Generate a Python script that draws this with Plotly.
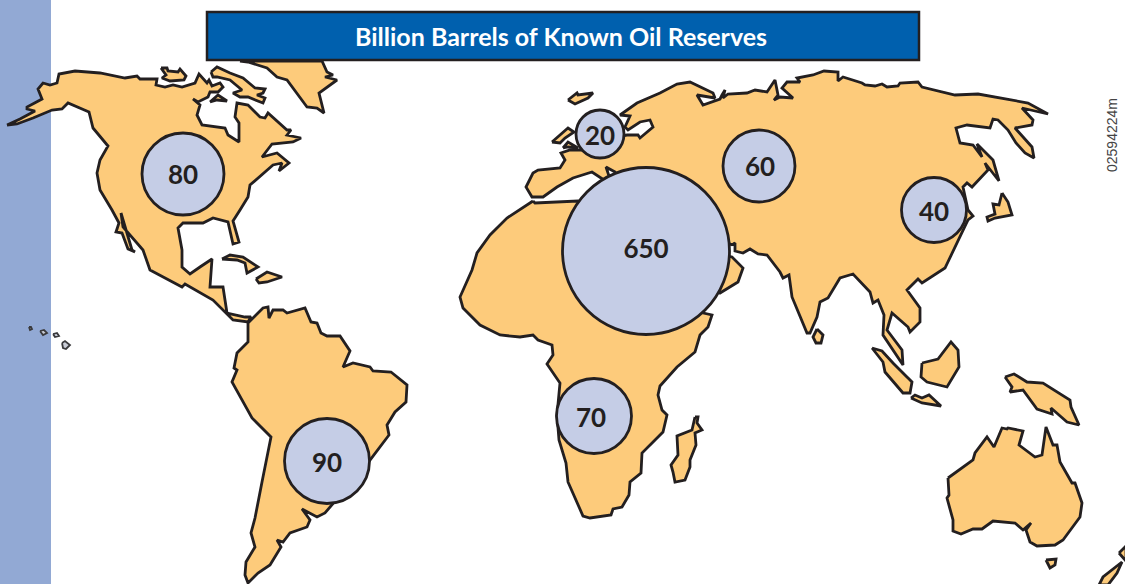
import plotly.graph_objects as go

# outlines, in picture pixels
north_america = [(7,125),(20,119),(35,111),(27,109),(27,107),(42,99),(38,89),(43,83),(50,85),(57,83),(59,74),(75,71),(100,73),(125,78),(137,76),(140,79),(157,79),(156,85),(165,87),(173,85),(182,87),(195,83),(199,74),(207,83),(209,80),(212,86),(220,83),(223,87),(218,92),(210,92),(208,97),(198,102),(193,99),(200,105),(197,115),(202,125),(225,128),(228,135),(239,142),(239,123),(235,117),(237,103),(248,105),(260,117),(265,118),(268,113),(287,130),(291,130),(287,135),(301,138),(293,142),(272,144),(262,157),(277,153),(289,163),(279,171),(282,163),(273,165),(250,185),(248,197),(240,210),(233,221),(239,242),(233,244),(228,222),(213,218),(203,223),(183,223),(178,228),(182,250),(182,267),(190,274),(200,267),(212,259),(210,287),(223,287),(227,313),(245,317),(251,317),(248,322),(233,320),(213,300),(185,284),(182,287),(150,270),(143,250),(123,227),(121,213),(132,250),(135,252),(128,249),(122,233),(116,232),(119,223),(112,210),(100,190),(97,173),(100,160),(108,146),(93,128),(89,112),(68,103),(62,109),(52,110),(33,118),(17,124)]
arctic_island = [(161,68),(167,68),(168,71),(178,72),(180,69),(186,76),(184,80),(170,81),(162,78),(166,75)]
baffin = [(211,72),(217,67),(230,73),(243,78),(255,88),(265,89),(263,93),(257,95),(265,98),(263,103),(248,97),(240,97),(233,93),(242,90),(230,80),(217,77),(213,77)]
hudson_island = [(210,102),(218,95),(227,101),(217,100)]
greenland = [(240,61),(248,62),(267,68),(277,77),(287,80),(307,107),(317,108),(324,113),(319,93),(327,87),(337,80),(325,77),(333,75),(327,72),(322,61)]
cuba = [(222,259),(230,255),(243,257),(258,267),(247,273),(245,263),(237,260)]
hispaniola = [(256,279),(267,272),(282,277),(267,282),(259,283)]
south_america = [(248,323),(263,308),(268,307),(269,318),(273,310),(283,310),(287,313),(305,308),(311,322),(317,323),(321,333),(327,336),(340,336),(350,351),(343,367),(353,363),(370,367),(373,371),(391,372),(407,385),(406,402),(395,412),(387,425),(389,435),(370,460),(333,503),(325,513),(317,517),(302,509),(310,520),(307,527),(290,533),(283,542),(277,540),(281,547),(270,565),(258,573),(248,583),(245,575),(246,562),(255,547),(251,533),(255,518),(262,482),(271,437),(252,418),(232,382),(237,370),(234,368),(237,353),(248,342)]
africa = [(533,201),(535,203),(578,201),(640,250),(690,310),(712,315),(708,327),(700,335),(695,352),(677,367),(660,386),(658,395),(662,410),(667,415),(663,432),(642,453),(641,473),(630,482),(629,495),(622,507),(613,509),(611,515),(590,518),(583,516),(568,482),(566,463),(559,440),(557,415),(560,383),(547,364),(553,355),(552,345),(538,340),(533,335),(520,337),(500,335),(480,325),(470,315),(463,308),(460,297),(472,270),(477,253),(490,235),(507,218)]
arabia = [(700,250),(732,257),(743,268),(738,282),(720,293),(700,280)]
eurasia = [(732,245),(735,243),(735,251),(743,253),(750,249),(758,254),(767,255),(780,272),(783,278),(789,275),(792,297),(807,333),(810,333),(817,317),(820,302),(828,298),(840,278),(853,274),(870,292),(873,303),(878,300),(884,315),(883,335),(895,353),(903,365),(902,350),(887,330),(892,313),(908,327),(910,332),(920,322),(920,308),(907,290),(918,279),(922,283),(945,268),(958,240),(968,220),(973,216),(968,210),(963,187),(967,183),(972,187),(988,170),(985,163),(999,181),(993,160),(977,144),(982,157),(973,145),(960,143),(956,128),(967,125),(990,128),(993,119),(998,120),(1008,130),(1016,143),(1025,153),(1034,158),(1032,147),(1015,128),(1032,125),(1033,120),(1022,108),(1048,114),(1028,103),(987,96),(978,94),(955,95),(922,87),(918,82),(900,83),(898,86),(887,87),(882,84),(875,86),(865,85),(862,83),(843,77),(838,81),(838,72),(824,71),(813,75),(797,78),(800,82),(787,82),(782,88),(793,98),(780,97),(774,100),(778,95),(775,80),(767,92),(755,90),(747,93),(728,94),(723,98),(725,90),(722,95),(720,99),(703,105),(697,95),(715,98),(713,93),(690,82),(677,84),(660,93),(637,103),(620,115),(630,116),(625,127),(628,130),(640,122),(650,120),(653,127),(640,138),(638,135),(627,135),(600,140),(585,150),(570,150),(561,153),(565,160),(560,168),(538,170),(533,173),(526,187),(532,197),(543,197),(557,187),(573,178),(592,172),(604,180),(609,176),(606,167),(615,172),(620,190)]
iceland = [(568,100),(577,93),(578,95),(593,93),(588,98),(575,104)]
britain = [(552,142),(563,133),(568,128),(574,132),(565,138),(560,143)]
ireland = [(563,148),(568,142),(578,148),(568,147)]
japan = [(1002,193),(1008,202),(1012,215),(995,218),(988,221),(987,217),(995,214),(993,204),(999,205)]
sri_lanka = [(817,329),(823,335),(821,343),(816,343),(813,337)]
madagascar = [(695,417),(698,417),(697,423),(702,430),(695,433),(696,445),(690,460),(690,467),(685,480),(675,482),(673,472),(671,465),(678,455),(677,436),(692,430)]
sumatra = [(872,348),(882,351),(893,363),(912,382),(910,393),(903,393),(885,372),(883,362)]
java = [(911,398),(915,395),(922,398),(929,395),(941,406),(922,403)]
borneo = [(922,363),(938,359),(951,342),(958,350),(959,367),(947,387),(927,382),(921,377)]
new_guinea = [(1005,377),(1014,374),(1027,382),(1043,383),(1070,400),(1071,407),(1079,425),(1067,422),(1051,408),(1052,414),(1037,409),(1023,390),(1010,392),(1012,387)]
australia = [(948,478),(973,460),(975,453),(987,437),(994,447),(1002,428),(1007,429),(1008,428),(1023,431),(1019,445),(1035,457),(1042,455),(1046,427),(1053,445),(1057,445),(1060,462),(1072,483),(1075,483),(1082,503),(1080,517),(1063,540),(1055,545),(1037,546),(1030,542),(1026,530),(1031,523),(1023,530),(1015,523),(993,521),(982,529),(973,529),(961,534),(953,531),(953,520),(947,498),(949,495)]
tasmania = [(1046,560),(1056,559),(1055,565),(1050,568)]
nz_north = [(1119,553),(1126,546),(1126,561)]
nz_south = [(1099,585),(1103,577),(1122,562),(1117,573),(1108,585)]

land = [north_america, arctic_island, baffin, hudson_island, greenland, cuba, hispaniola,
        south_america, africa, arabia, eurasia, iceland, britain, ireland, japan, sri_lanka,
        madagascar, sumatra, java, borneo, new_guinea, australia, tasmania, nz_north, nz_south]

hawaii_1 = [(29,327),(31,327),(32,329),(30,330)]
hawaii_2 = [(40,331),(44,330),(47,333),(43,335)]
hawaii_3 = [(53,334),(57,333),(59,336),(55,337)]
hawaii_4 = [(62,343),(65,341),(70,345),(66,349),(63,348)]
hawaii = [hawaii_1, hawaii_2, hawaii_3, hawaii_4]

# bubbles
reserves = [80, 20, 650, 60, 40, 70, 90]
bubble_x = [183, 600, 646, 759, 934, 594, 327]
bubble_y = [174, 134, 251, 166, 210, 416, 461]
bubble_d = [82, 48, 167, 72, 65, 75, 85]
label_x = [183, 600, 646, 760, 934, 591, 327]
label_y = [177, 138, 251, 169, 214, 420, 465]

title = 'Billion Barrels of Known Oil Reserves'
INK = '#231f20'

fig = go.Figure()

for part in land + hawaii:
  fig.add_trace(
    go.Scatter(
      x = [p[0] for p in part] + [part[0][0]],
      y = [p[1] for p in part] + [part[0][1]],
      mode = 'lines',
      fill = 'toself',
      fillcolor = '#fdcb7b' if part in land else '#c9ccd6',
      line = dict(color=INK if part in land else '#3a3a3c', width=2.8 if part in land else 1.8),
      hoverinfo = 'skip',
      showlegend = False
    )
  )

fig.add_trace(
  go.Scatter(
    x = bubble_x,
    y = bubble_y,
    mode = 'markers',
    marker = dict(size=bubble_d, color='#c5cde6', line=dict(color=INK, width=2.8), opacity=1),
    hoverinfo = 'skip',
    showlegend = False
  )
)

fig.add_trace(
  go.Scatter(
    x = label_x,
    y = label_y,
    mode = 'text',
    text = [str(v) for v in reserves],
    textposition = 'middle center',
    textfont = dict(family='Lato', size=26, color=INK, weight=700),
    hoverinfo = 'skip',
    showlegend = False
  )
)

fig.update_layout(
  width = 1125,
  height = 584,
  margin = dict(l=0, r=0, t=0, b=0),
  paper_bgcolor = 'white',
  plot_bgcolor = 'white',
  xaxis = dict(range=[0, 1125], visible=False),
  yaxis = dict(range=[584, 0], visible=False),
  shapes = [
    dict(type='rect', x0=0, x1=51, y0=0, y1=584, layer='below',
         fillcolor='#92a9d4', line=dict(width=0)),
    dict(type='rect', x0=207, x1=919, y0=12, y1=60, layer='above',
         fillcolor='#0060ae', line=dict(color=INK, width=2.5)),
  ],
  annotations = [
    dict(x=561, y=36, text=title, showarrow=False,
         font=dict(family='Lato', size=25, color='white', weight=700)),
    dict(x=1112, y=135, text='02594224m', showarrow=False, textangle=-90,
         font=dict(family='Liberation Sans', size=14, color='#444444')),
  ]
)

fig.write_html("out.html", config=dict(displayModeBar=False),
               post_script="document.body.style.margin='0'")
